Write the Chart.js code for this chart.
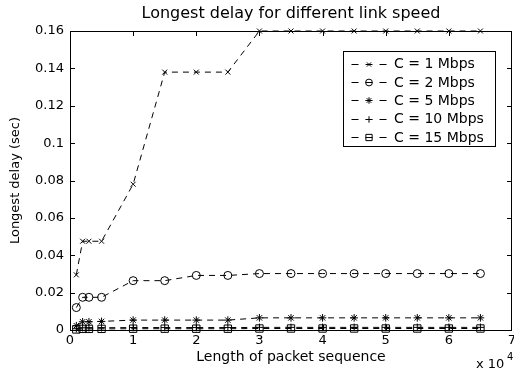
<!DOCTYPE html>
<html><head><meta charset="utf-8">
<script src="https://cdn.jsdelivr.net/npm/chart.js@4/dist/chart.umd.min.js"></script>
<style>html,body{margin:0;padding:0;background:#fff;} #wrap{width:514px;height:378px;position:relative;}</style>
</head><body><div id="wrap"><canvas id="c"></canvas></div>
<script>
const chartTitle = 'Longest delay for different link speed';
const xAxisTitle = 'Length of packet sequence';
const yAxisTitle = 'Longest delay (sec)';
const xExponentBase = 'x 10';
const xExponent = '4';
const packetLengths = [0.1, 0.2, 0.3, 0.5, 1, 1.5, 2, 2.5, 3, 3.5, 4, 4.5, 5, 5.5, 6, 6.5];
const seriesLabels = ['C = 1 Mbps', 'C = 2 Mbps', 'C = 5 Mbps', 'C = 10 Mbps', 'C = 15 Mbps'];
const delay1Mbps  = [0.0295, 0.0475, 0.0475, 0.0475, 0.078, 0.138, 0.138, 0.138, 0.16, 0.16, 0.16, 0.16, 0.16, 0.16, 0.16, 0.16];
const delay2Mbps  = [0.012, 0.0175, 0.0175, 0.0175, 0.0264, 0.0264, 0.0292, 0.0292, 0.0302, 0.0302, 0.0302, 0.0302, 0.0302, 0.0302, 0.0302, 0.0302];
const delay5Mbps  = [0.0023, 0.0044, 0.0044, 0.0046, 0.0053, 0.0053, 0.0053, 0.0053, 0.0065, 0.0065, 0.0065, 0.0065, 0.0065, 0.0065, 0.0065, 0.0065];
const delay10Mbps = [0.0007, 0.0012, 0.0012, 0.0012, 0.0013, 0.0013, 0.0013, 0.0013, 0.0014, 0.0014, 0.0014, 0.0014, 0.0014, 0.0014, 0.0014, 0.0014];
const delay15Mbps = [0.0003, 0.0006, 0.0006, 0.0006, 0.0007, 0.0007, 0.0007, 0.0007, 0.0008, 0.0008, 0.0008, 0.0008, 0.0008, 0.0008, 0.0008, 0.0008];
const xTickValues = [0, 1, 2, 3, 4, 5, 6, 7];
const yTickValues = [0, 0.02, 0.04, 0.06, 0.08, 0.1, 0.12, 0.14, 0.16];
const markerStyles = ['crossRot', 'circle', 'star', 'cross', 'rect'];
const markerSizes = [3.5, 4, 3.8, 3.8, 5.2];

const seriesValues = [delay1Mbps, delay2Mbps, delay5Mbps, delay10Mbps, delay15Mbps];
const FONT = "'DejaVu Sans', sans-serif";
Chart.defaults.font.family = FONT;
Chart.defaults.color = '#000';

function drawMarker(ctx, style, x, y, r) {
  ctx.beginPath();
  const a = r * Math.SQRT1_2;
  if (style === 'crossRot') {
    ctx.moveTo(x - a, y - a); ctx.lineTo(x + a, y + a);
    ctx.moveTo(x - a, y + a); ctx.lineTo(x + a, y - a);
  } else if (style === 'circle') {
    ctx.arc(x, y, r, 0, Math.PI * 2);
  } else if (style === 'star') {
    ctx.moveTo(x, y - r); ctx.lineTo(x, y + r);
    ctx.moveTo(x - r, y); ctx.lineTo(x + r, y);
    ctx.moveTo(x - a, y - a); ctx.lineTo(x + a, y + a);
    ctx.moveTo(x - a, y + a); ctx.lineTo(x + a, y - a);
  } else if (style === 'cross') {
    ctx.moveTo(x, y - r); ctx.lineTo(x, y + r);
    ctx.moveTo(x - r, y); ctx.lineTo(x + r, y);
  } else if (style === 'rect') {
    ctx.rect(x - a, y - a, 2 * a, 2 * a);
  }
  ctx.stroke();
}

const framePlugin = {
  id: 'matlabFrame',
  afterDraw(chart) {
    const {ctx, chartArea: ca, scales} = chart;
    ctx.save();
    ctx.strokeStyle = '#000';
    ctx.lineWidth = 1;
    ctx.setLineDash([]);
    // box
    ctx.strokeRect(Math.round(ca.left) + 0.5, Math.round(ca.top) + 0.5, Math.round(ca.right - ca.left) - 1, Math.round(ca.bottom - ca.top));
    // inward ticks
    const tl = 5;
    ctx.beginPath();
    xTickValues.forEach(v => {
      const px = Math.min(Math.round(scales.x.getPixelForValue(v)), Math.round(ca.right) - 1) + 0.5;
      ctx.moveTo(px, ca.bottom); ctx.lineTo(px, ca.bottom - tl);
      ctx.moveTo(px, ca.top); ctx.lineTo(px, ca.top + tl);
    });
    yTickValues.forEach(v => {
      const py = Math.round(scales.y.getPixelForValue(v)) + 0.5;
      ctx.moveTo(ca.left, py); ctx.lineTo(ca.left + tl, py);
      ctx.moveTo(ca.right, py); ctx.lineTo(ca.right - tl, py);
    });
    ctx.stroke();
    // title
    ctx.fillStyle = '#000';
    ctx.font = '16px ' + FONT;
    ctx.textAlign = 'center';
    ctx.textBaseline = 'middle';
    ctx.fillText(chartTitle, (ca.left + ca.right) / 2, 14);
    // exponent
    ctx.textAlign = 'left';
    ctx.font = '13px ' + FONT;
    ctx.fillText(xExponentBase, ca.right - 36, 365);
    ctx.font = '10px ' + FONT;
    ctx.fillText(xExponent, ca.right - 5, 357);
    // legend
    const bx = ca.right - 169, by = ca.top + 20, bw = 152, bh = 95;
    ctx.fillStyle = '#fff';
    ctx.fillRect(bx, by, bw, bh);
    ctx.strokeRect(bx + 0.5, by + 0.5, bw, bh);
    ctx.font = '14px ' + FONT;
    ctx.fillStyle = '#000';
    chart.data.datasets.forEach((ds, i) => {
      const y = by + 12.5 + i * 18.4;
      ctx.setLineDash([7, 7]);
      ctx.beginPath();
      ctx.moveTo(bx + 8.5, Math.round(y) + 0.5);
      ctx.lineTo(bx + 43.5, Math.round(y) + 0.5);
      ctx.stroke();
      ctx.setLineDash([]);
      drawMarker(ctx, markerStyles[i], bx + 26, Math.round(y) + 0.5, markerSizes[i] * 0.85);
      ctx.textBaseline = 'middle';
      ctx.fillText(ds.label, bx + 51, y + 1);
    });
    ctx.restore();
  }
};

const datasets = seriesLabels.map((label, i) => ({
  label,
  data: packetLengths.map((x, j) => ({x, y: seriesValues[i][j]})),
  borderColor: '#000',
  borderWidth: 1,
  borderDash: [6, 5],
  pointStyle: markerStyles[i],
  pointRadius: markerSizes[i],
  pointHoverRadius: markerSizes[i],
  pointBorderColor: '#000',
  pointBorderWidth: 1,
  pointBackgroundColor: 'rgba(0,0,0,0)',
  tension: 0,
  fill: false,
  clip: 8
}));

new Chart(document.getElementById('c'), {
  type: 'line',
  data: {datasets},
  plugins: [framePlugin],
  options: {
    responsive: true,
    maintainAspectRatio: false,
    animation: false,
    layout: {autoPadding: false, padding: {top: 31, right: 2, left: 0, bottom: 0}},
    plugins: {legend: {display: false}, title: {display: false}, tooltip: {enabled: false}},
    scales: {
      x: {
        type: 'linear', min: 0, max: 7,
        afterBuildTicks: s => { s.ticks = xTickValues.map(v => ({value: v})); },
        afterFit: s => { s.height = 48; s.paddingLeft = 0; s.paddingRight = 0; },
        grid: {display: false, drawTicks: false},
        border: {display: false},
        ticks: {padding: 3, font: {size: 13}, color: '#000', maxRotation: 0, autoSkip: false},
        title: {display: true, text: xAxisTitle, font: {size: 14}, color: '#000', padding: {top: 0, bottom: 12}}
      },
      y: {
        type: 'linear', min: 0, max: 0.16,
        afterBuildTicks: s => { s.ticks = yTickValues.map(v => ({value: v})); },
        afterFit: s => { s.width = 70; s.paddingTop = 0; s.paddingBottom = 0; },
        grid: {display: false, drawTicks: false},
        border: {display: false},
        ticks: {padding: 6, font: {size: 13}, color: '#000', callback: v => String(Number(v.toFixed(2)))},
        title: {display: true, text: yAxisTitle, font: {size: 13}, color: '#000', padding: {top: 8, bottom: 0}}
      }
    }
  }
});
</script>
</body></html>
